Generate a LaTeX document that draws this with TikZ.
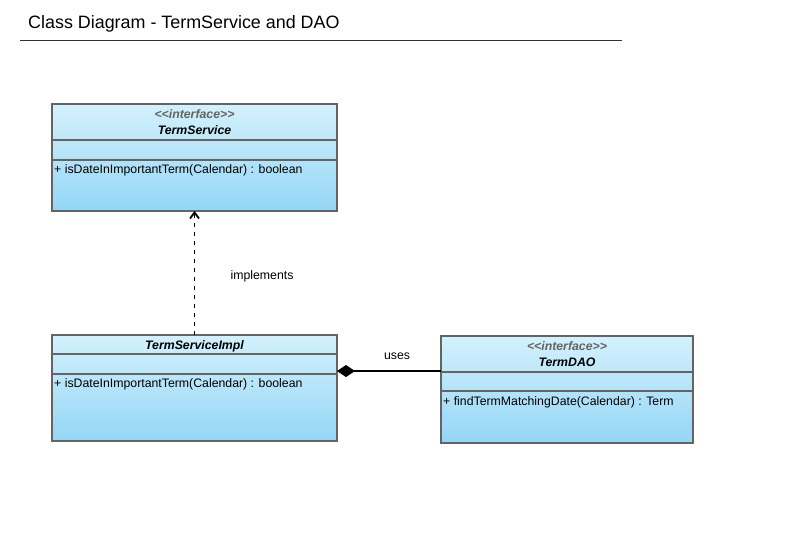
\documentclass[tikz,border=0pt]{standalone}
\usepackage{fontspec}
\setmainfont{Liberation Sans}
\usepackage{tikz}
\usetikzlibrary{arrows.meta}
\definecolor{boxtop}{RGB}{212,241,252}
\definecolor{boxbot}{RGB}{148,214,246}
\definecolor{boxline}{RGB}{100,100,100}
\tikzset{
    every node/.style={font=\fontsize{12.3}{14}\selectfont},
    classbox/.style={draw=boxline, line width=1.6pt, rectangle, inner sep=0pt, outer sep=0pt, top color=boxtop, bottom color=boxbot},
    stereo/.style={font=\fontsize{12.3}{14}\selectfont\bfseries\itshape, text=boxline},
    cname/.style={font=\fontsize{12.3}{14}\selectfont\bfseries\itshape},
    method/.style={anchor=west, inner sep=0pt}
}
\begin{document}
\begin{tikzpicture}[x=1pt, y=-1pt]
        \useasboundingbox (0,0) rectangle (794,543);
        \node[anchor=west, inner sep=0pt, font=\fontsize{17.9}{21}\selectfont] (title) at (28,23.5) {Class Diagram - TermService and DAO};
        \draw[line width=0.8pt, black!80] (20,40) -- (622,40);

        % boxes
        \node[classbox, minimum width=285pt, minimum height=107pt] (service) at (194.5,157.5) {};
        \node[classbox, minimum width=285pt, minimum height=106pt] (impl) at (194.5,388) {};
        \node[classbox, minimum width=252pt, minimum height=107pt] (dao) at (567,389.5) {};

        % compartments
        \draw[boxline, line width=1.6pt] (52,140) -- (337,140);
        \draw[boxline, line width=1.6pt] (52,160) -- (337,160);
        \draw[boxline, line width=1.6pt] (52,354) -- (337,354);
        \draw[boxline, line width=1.6pt] (52,374) -- (337,374);
        \draw[boxline, line width=1.6pt] (441,372) -- (693,372);
        \draw[boxline, line width=1.6pt] (441,391) -- (693,391);

        % texts
        \node[stereo] (servicest) at (194.5,114.5) {{<}{<}interface{>}{>}};
        \node[cname] (servicename) at (194.5,130) {TermService};
        \node[method] (servicem) at (54,170.5) {+ isDateInImportantTerm(Calendar) : boolean};
        \node[cname] (implname) at (194.5,346) {TermServiceImpl};
        \node[method] (implm) at (54,384.5) {+ isDateInImportantTerm(Calendar) : boolean};
        \node[stereo] (daost) at (567,346.5) {{<}{<}interface{>}{>}};
        \node[cname] (daoname) at (567,362) {TermDAO};
        \node[method] (daom) at (443,402.5) {+ findTermMatchingDate(Calendar) : Term};

        % relations
        \draw[-{Straight Barb[length=6pt, width=9pt]}, line width=1.8pt, dash pattern=on 4pt off 5pt] (impl.north -| service.south) -- (service.south);
        \node (impl-lbl) at (262,276.5) {implements};
        \coordinate (whole) at (337,371);
        \draw[{Diamond[length=18pt, width=12pt]}-, line width=1.1pt] (whole) -- (dao.west |- whole);
        \node (uses-lbl) at (397,356.5) {uses};
    \end{tikzpicture}
\end{document}
